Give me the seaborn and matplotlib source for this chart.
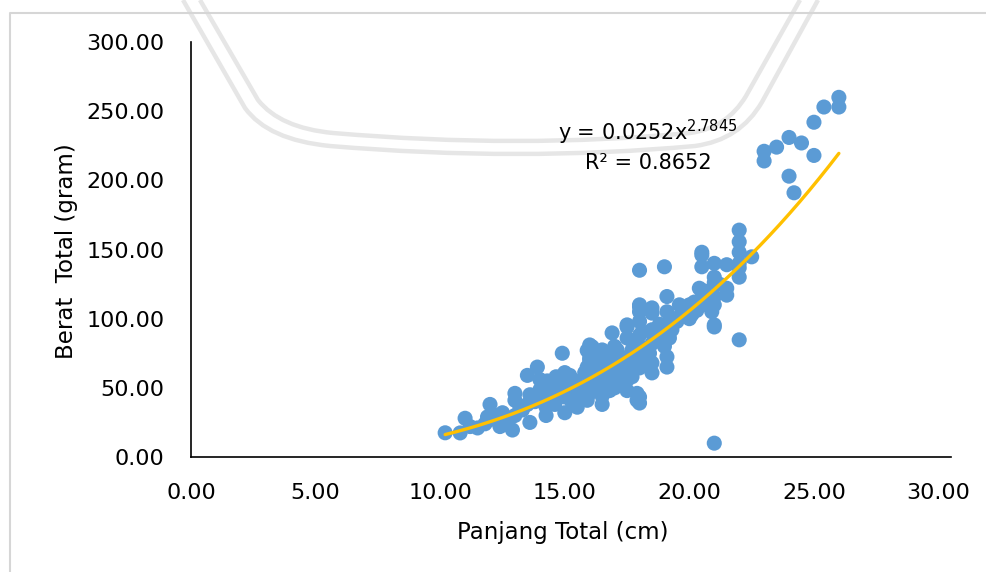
import numpy as np
import seaborn as sns
import matplotlib.pyplot as plt
from matplotlib.path import Path
from matplotlib.patches import PathPatch
from matplotlib.lines import Line2D
from matplotlib.ticker import MultipleLocator, StrMethodFormatter

# data: total length (cm) vs total weight (gram)
panjang = [
    10.2, 10.8, 11.0, 11.5, 11.9, 12.0, 12.4, 12.5, 12.5, 12.9,
    13.0, 13.0, 13.3, 13.5, 13.6, 13.9, 14.0, 14.0, 14.25, 14.25,
    14.5, 14.5, 14.65, 14.8, 14.9, 15.0, 15.0, 15.0, 15.2, 15.3,
    15.5, 15.5, 15.8, 15.9, 15.9, 15.9, 15.9, 16.0, 16.0, 16.0,
    16.1, 16.4, 16.5, 16.5, 16.5, 16.9, 16.9, 17.1, 17.5, 17.5,
    17.5, 17.7, 17.9, 17.9, 18.0, 18.0, 18.0, 18.0, 18.0, 18.0,
    18.0, 18.1, 18.4, 18.5, 18.5, 18.5, 18.5, 18.7, 19.0, 19.1,
    19.1, 19.1, 19.2, 19.1, 19.1, 19.6, 19.9, 19.9, 20.0, 20.1,
    20.4, 20.5, 20.5, 20.5, 20.7, 20.9, 20.9, 21.0, 21.0, 21.0,
    21.0, 21.0, 21.0, 21.5, 21.5, 21.5, 22.0, 22.0, 22.0, 22.5,
    22.0, 22.0, 22.0, 21.0,
    23.0, 23.0, 23.5, 24.0, 24.5, 25.0, 25.0, 25.4, 26.0, 26.0,
    24.0, 24.2,
    15.5, 16.0, 16.0, 16.5, 16.5, 17.0, 17.0, 17.0, 17.5, 17.5,
    18.0, 18.0, 17.0, 18.5, 18.5, 19.0, 16.0, 15.0, 14.5, 14.0,
    13.5, 13.0, 12.5, 15.5, 16.5, 17.5, 19.5, 20.0, 19.0, 18.0,
    17.5, 18.0, 20.5, 21.0, 22.0,
    11.2, 11.8, 12.2, 12.8, 13.2, 13.8, 14.2, 14.6, 14.8, 15.2,
    15.4, 15.6, 15.8, 16.2, 16.2, 16.3, 16.7, 16.7, 16.8, 16.8,
    17.2, 17.3, 17.3, 17.6, 17.7, 17.8, 18.2, 18.3, 18.6, 18.8,
    19.3, 19.4, 19.7, 20.2, 20.3, 20.6, 21.2, 13.6, 14.3, 12.0,
]
berat = [
    17.5, 17.4, 28.0, 21.0, 29.0, 38.0, 22.0, 32.0, 24.0, 19.5,
    46.0, 41.0, 34.0, 59.0, 25.0, 65.0, 56.0, 48.5, 36.0, 30.0,
    43.4, 46.0, 58.0, 48.5, 75.0, 61.0, 43.4, 32.0, 59.0, 39.0,
    50.6, 36.0, 61.0, 77.0, 65.0, 43.4, 41.0, 81.0, 71.6, 46.3,
    79.6, 58.0, 77.4, 58.0, 38.0, 89.7, 60.8, 77.4, 95.5, 94.0,
    55.7, 77.4, 41.0, 46.0, 135.0, 110.0, 105.0, 108.5, 64.4, 43.4,
    39.0, 90.4, 75.0, 107.8, 104.0, 92.0, 60.8, 90.4, 137.5, 116.0,
    105.0, 87.0, 86.0, 72.4, 65.0, 110.0, 106.0, 104.0, 110.0, 103.0,
    122.0, 146.0, 137.5, 148.0, 110.0, 108.5, 105.0, 126.0, 140.0, 130.0,
    116.0, 95.5, 94.0, 139.0, 122.0, 117.0, 164.0, 155.6, 148.0, 144.7,
    136.8, 130.0, 84.7, 10.0,
    221.0, 214.0, 224.0, 231.0, 227.0, 218.0, 242.0, 253.0, 260.0, 253.0,
    203.0, 191.0,
    52.0, 55.0, 62.0, 65.0, 50.0, 68.0, 58.0, 50.0, 70.0, 62.0,
    72.0, 80.0, 80.0, 82.0, 68.0, 80.0, 70.0, 52.0, 52.0, 42.0,
    38.0, 30.0, 27.0, 45.0, 44.0, 48.0, 98.0, 100.0, 95.0, 98.0,
    86.0, 88.0, 115.0, 110.0, 140.0,
    22.0, 24.0, 30.0, 28.0, 36.0, 40.0, 42.0, 38.0, 55.0, 48.0,
    55.0, 42.0, 50.0, 52.0, 64.0, 72.0, 55.0, 62.0, 72.0, 48.0,
    62.0, 55.0, 72.0, 66.0, 58.0, 84.0, 70.0, 78.0, 86.0, 96.0,
    92.0, 100.0, 104.0, 112.0, 106.0, 120.0, 125.0, 45.0, 55.0, 27.0,
]

# power trendline shown on the chart
coef_a = 0.0252
coef_b = 2.7845
r2 = 0.8652

W, H = 987, 572


def px(x, y):
    # pixel position (y down) -> figure fraction
    return (x / W, 1 - y / H)


sns.set_style("white")
plt.rcParams['font.family'] = ['DejaVu Sans']
plt.rcParams['text.color'] = 'black'
plt.rcParams['axes.labelcolor'] = 'black'

fig = plt.figure(figsize=(W / 100, H / 100), dpi=100)

# faint watermark arcs behind the plot
outer = [(183, 0), (245, 108), (268, 140), (330, 146), (520, 162), (695, 146),
         (740, 140), (762, 102), (818, 0)]
inner = [(200, 0), (258, 100), (280, 128), (333, 133), (520, 149), (690, 133),
         (727, 128), (746, 96), (800, 0)]
codes = [Path.MOVETO, Path.LINETO, Path.CURVE3, Path.CURVE3, Path.CURVE3,
         Path.CURVE3, Path.CURVE3, Path.CURVE3, Path.LINETO]
for pts in (outer, inner):
    patch = PathPatch(Path([px(*p) for p in pts], codes), transform=fig.transFigure,
                      facecolor='none', edgecolor='#e6e6e6', lw=3.2, zorder=-1)
    fig.add_artist(patch)

# chart area border (cropped)
fig.add_artist(Line2D([10 / W, 10 / W, 1], [0, 1 - 13 / H, 1 - 13 / H],
                      transform=fig.transFigure, color='#d6d6d6', lw=1.5, zorder=-1))

ax = fig.add_axes([191 / W, 1 - 457 / H, 760 / W, 415 / H])
ax.patch.set_alpha(0)

sns.scatterplot(x=panjang, y=berat, s=118, color='#5B9BD5', edgecolor='none',
                linewidth=0, ax=ax, zorder=2, legend=False)

xt = np.linspace(min(panjang), max(panjang), 200)
yt = coef_a * xt ** coef_b
sns.lineplot(x=xt, y=yt, color='#FFC000', lw=2.4, ax=ax, zorder=3, legend=False)

ax.set_xlim(0, 30.5)
ax.set_ylim(0, 300)
ax.xaxis.set_major_locator(MultipleLocator(5))
ax.yaxis.set_major_locator(MultipleLocator(50))
ax.xaxis.set_major_formatter(StrMethodFormatter('{x:.2f}'))
ax.yaxis.set_major_formatter(StrMethodFormatter('{x:.2f}'))
ax.tick_params(length=0, labelsize=16, pad=19, colors='black')

for side in ['top', 'right']:
    ax.spines[side].set_visible(False)
for side in ['left', 'bottom']:
    ax.spines[side].set_color('black')
    ax.spines[side].set_linewidth(1.2)

ax.set_xlabel('Panjang Total (cm)', fontsize=16.5, color='black')
ax.set_ylabel('Berat  Total (gram)', fontsize=16.5, color='black')
ax.xaxis.set_label_coords((563 - 191) / 760, (457 - 532) / 415)
ax.yaxis.set_label_coords((67 - 191) / 760, (457 - 251) / 415)
ax.xaxis.label.set_va('center')
ax.yaxis.label.set_va('center')

fig.text(*px(648, 132), f'y = {coef_a}x$^{{{coef_b}}}$', ha='center', va='center',
         fontsize=15, color='black')
fig.text(*px(648, 163), f'R² = {r2}', ha='center', va='center', fontsize=15,
         color='black')

fig.savefig('out.png', dpi=100)
